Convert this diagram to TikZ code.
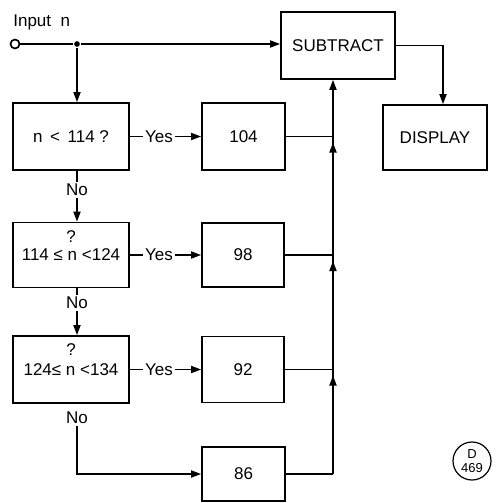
\documentclass[tikz,border=0pt]{standalone}
\usepackage{fontspec}
\setmainfont{Liberation Sans}
\usetikzlibrary{arrows.meta,positioning,calc}

\begin{document}
\begin{tikzpicture}[x=1pt,y=-1pt,>={Triangle[length=10pt,width=7pt]},
  line width=1.7pt,font=\fontsize{17}{20}\selectfont,
  box/.style={draw,minimum width=#1,inner sep=0pt},
  box/.default=116pt,
  lbl/.style={inner sep=1.5pt},
  dot/.style={circle,fill,inner sep=2pt}]
\useasboundingbox (0,0) rectangle (495,503);
% input and top row
\node[draw,circle,inner sep=0pt,minimum size=9pt] (in) at (15,44) {};
\node[lbl,anchor=west] (inlbl) at (11,22) {Input\ \ n};
\node[dot] (j0) at (77,44) {};
\node[box=114pt,minimum height=67pt] (sub) at (338,45.5) {SUBTRACT};
\node[box=104pt,minimum height=65pt] (disp) at (435,137.5) {DISPLAY};
% tests
\node[box,minimum height=67pt] (q1) at (71,136.5) {n \,<\, 114 ?};
\node[box,minimum height=65pt] (q2) at (71,255) {114 ≤ n <124};
\node[lbl] (k2) at (71,237) {?};
\node[box,minimum height=67pt] (q3) at (71,369.5) {124≤ n <134};
\node[lbl] (k3) at (71,350) {?};
% values
\node[box=83pt,minimum height=67pt] (v104) at (243.5,136.5) {104};
\node[box=82pt,minimum height=64pt] (v98) at (243,255) {98};
\node[box=82pt,minimum height=66pt] (v92) at (243,369.5) {92};
\node[box=83pt,minimum height=54pt] (v86) at (243.5,474) {86};
% yes / no labels
\node[lbl] (y1) at (159,136.5) {Yes};
\node[lbl] (y2) at (159,255) {Yes};
\node[lbl] (y3) at (159,369.5) {Yes};
\node[lbl] (n1) at (77,190) {No};
\node[lbl] (n2) at (77,303) {No};
\node[lbl] (n3) at (77,418) {No};
% bus
\coordinate (b1) at (333,136.5);
\coordinate (b2) at (333,255);
\coordinate (b3) at (333,369.5);
\coordinate (b4) at (333,474);
\node[draw,circle,line width=1.2pt,inner sep=0pt,minimum size=38pt,
  font=\fontsize{13}{14}\selectfont,align=center] (ref) at (472,461) {D\\469};
% connectors
\draw (in) -- (j0);
\draw[->] (j0) -- (sub.west |- j0);
\draw[->] (j0) -- (j0 |- q1.north);
\draw[->] (sub.east) -| ([xshift=8pt]disp.north);
\draw (q1.east) -- (y1.west);
\draw[->] (y1.east) -- (v104.west);
\draw (q2.east) -- (y2.west);
\draw[->] (y2.east) -- (v98.west);
\draw (q3.east) -- (y3.west);
\draw[->] (y3.east) -- (v92.west);
\draw (n1 |- q1.south) -- (n1.north);
\draw[->] (n1.south) -- (n1 |- q2.north);
\draw (n2 |- q2.south) -- (n2.north);
\draw[->] (n2.south) -- (n2 |- q3.north);
\draw[->] (n3.south) |- (v86.west);
\draw (v104.east) -- (b1);
\draw (v98.east) -- (b2);
\draw (v92.east) -- (b3);
\draw (v86.east) -- (b4);
\draw[->] (b4) -- (b1 |- sub.south);
\draw[->] (b4) -- ([yshift=-6pt]b3);
\draw[->] (b3) -- ([yshift=-6pt]b2);
\draw[->] (b2) -- ([yshift=-6pt]b1);
\end{tikzpicture}
\end{document}
